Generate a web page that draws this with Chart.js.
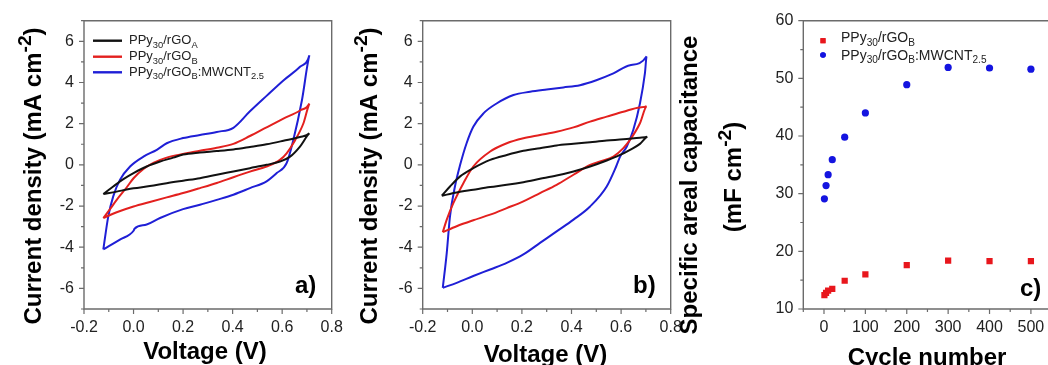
<!DOCTYPE html>
<html><head><meta charset="utf-8">
<script src="https://cdn.jsdelivr.net/npm/chart.js"></script>
<style>
html,body{margin:0;padding:0;background:#fff;overflow:hidden;width:1048px;height:365px;position:relative;}
canvas{position:absolute;top:0;left:0;}
</style></head><body>
<canvas id="ca" width="1048" height="365"></canvas>
<canvas id="cb" width="1048" height="365"></canvas>
<canvas id="cc" width="1060" height="365"></canvas>
<script>
// ---------- DATA ----------
const seriesNames = ['PPy_{30}/rGO_{A}', 'PPy_{30}/rGO_{B}', 'PPy_{30}/rGO_{B}:MWCNT_{2.5}'];
const cvXTicks = [-0.2, 0.0, 0.2, 0.4, 0.6, 0.8];
const cvXMinor = [-0.1, 0.1, 0.3, 0.5, 0.7];
const cvYTicks = [-6, -4, -2, 0, 2, 4, 6];
const cvYMinor = [-7, -5, -3, -1, 1, 3, 5, 7];

// panel a
const aBlackV = [-0.122,-0.082,-0.041,0,0.053,0.107,0.16,0.2,0.268,0.336,0.403,0.47,0.537,0.605,0.672,0.71, 0.672,0.632,0.591,0.537,0.47,0.403,0.336,0.268,0.2,0.134,0.066,0,-0.028,-0.068,-0.122];
const aBlackI = [-1.42,-1.05,-0.69,-0.4,-0.08,0.16,0.35,0.5,0.6,0.67,0.75,0.87,1.0,1.17,1.35,1.53, 0.89,0.4,0.16,0,-0.16,-0.32,-0.48,-0.65,-0.77,-0.89,-1.03,-1.14,-1.2,-1.3,-1.42];
const aRedV = [-0.122,-0.095,-0.068,-0.028,0,0.04,0.08,0.134,0.2,0.268,0.336,0.403,0.47,0.537,0.605,0.672,0.71, 0.686,0.645,0.618,0.591,0.537,0.47,0.403,0.336,0.268,0.2,0.134,0.066,0,-0.068,-0.122];
const aRedI = [-2.58,-2.15,-1.7,-1.1,-0.65,-0.2,0.1,0.35,0.53,0.68,0.83,1.02,1.4,1.82,2.24,2.64,2.98, 2.02,1.05,0.56,0.24,-0.08,-0.33,-0.6,-0.88,-1.13,-1.37,-1.58,-1.8,-2.02,-2.3,-2.58];
const aBlueV = [-0.122,-0.102,-0.082,-0.055,-0.014,0.04,0.094,0.134,0.2,0.268,0.336,0.403,0.47,0.537,0.605,0.672,0.71, 0.68,0.645,0.618,0.578,0.537,0.47,0.403,0.336,0.268,0.2,0.107,0.053,0.004,0,-0.055,-0.122];
const aBlueI = [-4.11,-2.5,-1.53,-0.73,-0.08,0.4,0.73,1.05,1.3,1.45,1.6,1.8,2.6,3.35,4.1,4.76,5.32, 3.15,1.21,0.08,-0.4,-0.8,-1.13,-1.45,-1.7,-1.94,-2.15,-2.58,-2.9,-3.1,-3.2,-3.63,-4.11];

// panel b
const bBlackV = [-0.123,-0.09,-0.049,0.004,0.072,0.139,0.206,0.273,0.34,0.408,0.475,0.542,0.609,0.676,0.706, 0.676,0.636,0.596,0.542,0.475,0.408,0.34,0.273,0.206,0.139,0.072,0.004,-0.063,-0.123];
const bBlackI = [-1.5,-1.05,-0.56,-0.16,0.24,0.48,0.68,0.81,0.94,1.02,1.1,1.18,1.24,1.32,1.37, 1.02,0.73,0.48,0.21,-0.08,-0.32,-0.52,-0.68,-0.84,-0.97,-1.08,-1.21,-1.34,-1.5];
const bRedV = [-0.119,-0.103,-0.076,-0.036,0.004,0.072,0.139,0.206,0.273,0.34,0.408,0.475,0.542,0.609,0.676,0.703, 0.676,0.636,0.609,0.569,0.515,0.475,0.408,0.34,0.273,0.206,0.139,0.072,0.004,-0.063,-0.119];
const bRedI = [-3.27,-2.66,-1.85,-0.89,-0.08,0.65,1.05,1.29,1.45,1.61,1.82,2.1,2.34,2.58,2.79,2.85, 2.02,1.21,0.81,0.4,0.16,0,-0.48,-0.97,-1.37,-1.77,-2.1,-2.42,-2.69,-2.98,-3.27];
const bBlueV = [-0.119,-0.103,-0.09,-0.07,-0.049,-0.023,0.004,0.045,0.098,0.166,0.233,0.3,0.367,0.434,0.5,0.569,0.636,0.703, 0.696,0.676,0.649,0.623,0.596,0.58,0.542,0.475,0.408,0.34,0.273,0.206,0.139,0.072,0.004,-0.063,-0.119];
const bBlueI = [-5.97,-4.27,-2.5,-1.05,0,1.05,1.85,2.5,2.98,3.39,3.55,3.66,3.76,3.87,4.11,4.44,4.84,5.27, 4.44,2.98,1.69,0.89,0.4,-0.08,-1.05,-2.02,-2.66,-3.23,-3.79,-4.35,-4.76,-5.08,-5.4,-5.73,-5.97];

// panel c
const cycles = [1, 5, 10, 20, 50, 100, 200, 300, 400, 500];
const capRGOB = [12.4, 12.8, 13.2, 13.5, 14.9, 16.0, 17.6, 18.4, 18.3, 18.3];
const capMWCNT = [29.1, 31.4, 33.3, 35.9, 39.8, 44.0, 48.9, 51.9, 51.8, 51.6];
const cXTicks = [0, 100, 200, 300, 400, 500];
const cXMinor = [-50, 50, 150, 250, 350, 450, 550];
const cYTicks = [10, 20, 30, 40, 50, 60];
const cYMinor = [15, 25, 35, 45, 55];

// ---------- HELPERS ----------
const FONT = "'Liberation Sans', Arial, Helvetica, sans-serif";
const COL_BLACK = '#111111', COL_RED = '#e3201e', COL_BLUE = '#1f1fd6';
const FRAME = '#6b6b6b';

function pts(xs, ys){ return xs.map((x,i)=>({x:x, y:ys[i]})); }

function parseRich(s){
  const out=[]; let i=0, buf='';
  while(i<s.length){
    if((s[i]==='_'||s[i]==='^') && s[i+1]==='{'){
      if(buf){out.push({t:buf,m:0});buf='';}
      const j=s.indexOf('}',i);
      out.push({t:s.slice(i+2,j), m: s[i]==='_'?1:-1});
      i=j+1;
    } else {buf+=s[i]; i++;}
  }
  if(buf) out.push({t:buf,m:0});
  return out;
}
function fnt(size, weight){ return weight+' '+size+'px '+FONT; }
function drawRich(ctx, str, x, y, size, weight, color, align, scale){
  const segs=parseRich(str); const sc = scale||0.72;
  let w=0;
  for(const g of segs){ ctx.font=fnt(g.m? size*sc: size, weight); w+=ctx.measureText(g.t).width; }
  let cx = align==='center' ? x-w/2 : x;
  ctx.fillStyle=color; ctx.textBaseline='alphabetic'; ctx.textAlign='left';
  for(const g of segs){
    const sz = g.m? size*sc : size; ctx.font=fnt(sz, weight);
    const dy = g.m===1 ? size*0.28 : (g.m===-1 ? -size*0.42 : 0);
    ctx.fillText(g.t, cx, y+dy); cx += ctx.measureText(g.t).width;
  }
}

const decor = {
  id:'decor',
  afterDraw(chart, args, o){
    const ctx=chart.ctx, a=chart.chartArea, sx=chart.scales.x, sy=chart.scales.y;
    ctx.save();
    ctx.strokeStyle=FRAME; ctx.lineWidth=1.4;
    ctx.beginPath();
    ctx.moveTo(a.left, a.bottom); ctx.lineTo(a.left, a.top); ctx.lineTo(a.right, a.top); ctx.lineTo(a.right, a.bottom); ctx.closePath();
    ctx.stroke();
    ctx.lineWidth=1.2;
    ctx.beginPath();
    const xt=(vals,len)=>{ for(const v of vals){ const p=sx.getPixelForValue(v); ctx.moveTo(p,a.bottom); ctx.lineTo(p,a.bottom+len);} };
    const yt=(vals,len)=>{ for(const v of vals){ const p=sy.getPixelForValue(v); ctx.moveTo(a.left,p); ctx.lineTo(a.left-len,p);} };
    xt(o.xMajor,5); xt(o.xMinor,3); yt(o.yMajor,5); yt(o.yMinor,3);
    ctx.stroke();
    // x title
    drawRich(ctx, o.xTitle.text, o.xTitle.x, o.xTitle.y, 24, 'bold', '#000', 'center');
    // y titles
    for(const t of o.yTitles){
      ctx.save(); ctx.translate(t.x, t.y); ctx.rotate(-Math.PI/2);
      drawRich(ctx, t.text, 0, 0, 24, t.weight||'bold', '#000', 'center', 0.8);
      ctx.restore();
    }
    // panel label
    ctx.font=fnt(24,'bold'); ctx.fillStyle='#000'; ctx.textAlign='left'; ctx.textBaseline='alphabetic';
    ctx.fillText(o.panel.text, o.panel.x, o.panel.y);
    // legend
    const L=o.legend;
    L.items.forEach((it)=>{
      const ds=chart.data.datasets[it.ds];
      if(L.kind==='line'){
        ctx.strokeStyle=ds.borderColor; ctx.lineWidth=2.4;
        ctx.beginPath(); ctx.moveTo(L.x0, it.y); ctx.lineTo(L.x1, it.y); ctx.stroke();
      } else {
        ctx.fillStyle=ds.backgroundColor; ctx.strokeStyle=ds.backgroundColor;
        Chart.helpers.drawPoint(ctx, {pointStyle: ds.pointStyle, radius: ds.pointRadius-0.8, borderWidth:0}, L.x0, it.y);
        ctx.fill();
      }
      drawRich(ctx, ds.label, L.tx, it.ty, L.size, 'normal', '#222', 'left', 0.72);
    });
    ctx.restore();
  }
};

function makeChart(id, datasets, c){
  return new Chart(document.getElementById(id), {
    type:'scatter',
    data:{datasets},
    options:{
      responsive:false, animation:false, devicePixelRatio:1,
      layout:{padding:{left:c.left-60, right:c.cw-c.right, top:c.top, bottom:365-c.bottom-40}},
      plugins:{legend:{display:false}, tooltip:{enabled:false}, decor:c.decor},
      scales:{
        x:{type:'linear', min:c.xmin, max:c.xmax,
           afterBuildTicks:s=>{ s.ticks=c.xTicks.map(v=>({value:v})); },
           afterFit:s=>{ s.height=40; },
           grid:{display:false, drawTicks:false}, border:{display:false},
           ticks:{padding:9, autoSkip:false, maxRotation:0, color:'#222', font:{family:FONT,size:16}, callback:c.xFmt}},
        y:{type:'linear', min:c.ymin, max:c.ymax,
           afterBuildTicks:s=>{ s.ticks=c.yTicks.map(v=>({value:v})); },
           afterFit:s=>{ s.width=60; },
           grid:{display:false, drawTicks:false}, border:{display:false},
           ticks:{padding:10, autoSkip:false, color:'#222', font:{family:FONT,size:16}, callback:v=>String(v)}}
      }
    },
    plugins:[decor]
  });
}

function cvSet(label, color, xs, ys){
  return {label, data:pts(xs,ys), showLine:true, borderColor:color, backgroundColor:color, borderWidth:2,
          pointRadius:0, fill:false, cubicInterpolationMode:'monotone'};
}
const fmt1 = v=>Number(v).toFixed(1);

makeChart('ca', [
  cvSet(seriesNames[0], COL_BLACK, aBlackV, aBlackI),
  cvSet(seriesNames[1], COL_RED, aRedV, aRedI),
  cvSet(seriesNames[2], COL_BLUE, aBlueV, aBlueI)
], {left:84, right:331.7, top:20.7, bottom:309, cw:1048, xmin:-0.2, xmax:0.8, ymin:-7, ymax:7,
    xTicks:cvXTicks, yTicks:cvYTicks, xFmt:fmt1,
    decor:{xMajor:cvXTicks, xMinor:cvXMinor, yMajor:cvYTicks, yMinor:cvYMinor,
      xTitle:{text:'Voltage (V)', x:205, y:359},
      yTitles:[{text:'Current density (mA cm^{-2})', x:41, y:176}],
      panel:{text:'a)', x:295, y:293},
      legend:{kind:'line', x0:93, x1:122, tx:129, size:13, items:[{ds:0,y:40.7,ty:44},{ds:1,y:56.7,ty:60},{ds:2,y:72.3,ty:75.6}]}}});

makeChart('cb', [
  cvSet(seriesNames[0], COL_BLACK, bBlackV, bBlackI),
  cvSet(seriesNames[1], COL_RED, bRedV, bRedI),
  cvSet(seriesNames[2], COL_BLUE, bBlueV, bBlueI)
], {left:422.7, right:670.7, top:20.7, bottom:309, cw:1048, xmin:-0.2, xmax:0.8, ymin:-7, ymax:7,
    xTicks:cvXTicks, yTicks:cvYTicks, xFmt:fmt1,
    decor:{xMajor:cvXTicks, xMinor:cvXMinor, yMajor:cvYTicks, yMinor:cvYMinor,
      xTitle:{text:'Voltage (V)', x:545.5, y:362},
      yTitles:[{text:'Current density (mA cm^{-2})', x:377, y:176}],
      panel:{text:'b)', x:633, y:293},
      legend:{kind:'line', x0:0, x1:0, tx:0, size:13, items:[]}}});

makeChart('cc', [
  {label:seriesNames[1], data:pts(cycles, capRGOB), showLine:false, pointStyle:'rect', pointRadius:4.4, backgroundColor:'#e8161c', borderColor:'#e8161c', borderWidth:0},
  {label:seriesNames[2], data:pts(cycles, capMWCNT), showLine:false, pointStyle:'circle', pointRadius:3.6, backgroundColor:'#1414e0', borderColor:'#1414e0', borderWidth:0}
], {left:803.3, right:1051.6, top:20.7, bottom:309, cw:1060, xmin:-50, xmax:550, ymin:10, ymax:60,
    xTicks:cXTicks, yTicks:cYTicks, xFmt:v=>String(v),
    decor:{xMajor:cXTicks, xMinor:cXMinor, yMajor:cYTicks, yMinor:cYMinor,
      xTitle:{text:'Cycle number', x:927, y:365},
      yTitles:[{text:'Specific areal capacitance', x:697, y:185},{text:'(mF cm^{-2})', x:741, y:177}],
      panel:{text:'c)', x:1020, y:296},
      legend:{kind:'marker', x0:823, tx:841, size:14, items:[{ds:0,y:40.7,ty:42},{ds:1,y:55,ty:59.5}]}}});
</script>
</body></html>
